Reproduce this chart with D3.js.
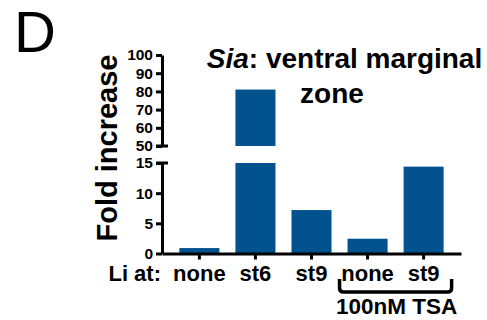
<!DOCTYPE html>
<html>
<head>
<meta charset="utf-8">
<script src="https://cdn.jsdelivr.net/npm/d3@7"></script>
<style>
  body { margin: 0; background: #fff; }
  svg text { font-family: "Liberation Sans", Arial, sans-serif; font-weight: bold; fill: #000; }
</style>
</head>
<body>
<div id="chart"></div>
<script>
// data
const categories = ['none', 'st6', 'st9', 'none', 'st9'];
const values = [0.9, 81, 7.2, 2.45, 14.4];
const lowTicks = [0, 5, 10, 15];
const highTicks = [50, 60, 70, 80, 90, 100];

const W = 487, H = 320;
const barColor = '#02528f';

const svg = d3.select('#chart').append('svg')
  .attr('width', W).attr('height', H);

// scales: broken axis with two segments
const x = d3.scaleBand()
  .domain(d3.range(categories.length))
  .range([162, 461])
  .paddingInner(0.286)
  .paddingOuter(0.31);

const yLow = d3.scaleLinear().domain([0, 15]).range([253.5, 163]);
const yHigh = d3.scaleLinear().domain([50, 100]).range([146, 55]);

// bars (the st6 bar is split across the break)
values.forEach((v, i) => {
  const top = Math.min(v, 15);
  svg.append('rect')
    .attr('x', x(i)).attr('width', x.bandwidth())
    .attr('y', yLow(top)).attr('height', yLow(0) - yLow(top))
    .attr('fill', barColor);
  if (v > 50) {
    svg.append('rect')
      .attr('x', x(i)).attr('width', x.bandwidth())
      .attr('y', yHigh(v)).attr('height', yHigh(50) - yHigh(v))
      .attr('fill', barColor);
  }
});

// y axes
const axisStyle = g => {
  g.select('.domain').attr('stroke-width', 3);
  g.selectAll('.tick line').attr('stroke-width', 3);
  g.selectAll('.tick text').style('font-size', '15.5px').attr('x', -9);
};

svg.append('g').attr('transform', 'translate(162,0)')
  .call(d3.axisLeft(yLow).tickValues(lowTicks).tickSize(6).tickSizeOuter(0))
  .call(axisStyle);

svg.append('g').attr('transform', 'translate(162,0)')
  .call(d3.axisLeft(yHigh).tickValues(highTicks).tickSize(6).tickSizeOuter(0))
  .call(axisStyle);

// break marks (ticks crossing the axis)
[yHigh(50), yLow(15)].forEach(yy => {
  svg.append('line').attr('x1', 156).attr('x2', 168)
    .attr('y1', yy).attr('y2', yy)
    .attr('stroke', '#000').attr('stroke-width', 3);
});

// x axis
const xAxis = svg.append('g').attr('transform', `translate(0,${yLow(0)})`)
  .call(d3.axisBottom(x).tickSize(6).tickSizeOuter(0).tickFormat(i => categories[i]));
xAxis.select('.domain').attr('stroke-width', 3);
xAxis.selectAll('.tick line').attr('stroke-width', 3);
xAxis.selectAll('.tick text').style('font-size', '22px').attr('y', 12).attr('dy', '0.71em');

svg.append('text')
  .attr('x', 161).attr('y', 281)
  .attr('text-anchor', 'end')
  .style('font-size', '22px')
  .text('Li at:');

// bracket under TSA group
const bx0 = x(3) - 8, bx1 = x(4) + x.bandwidth() + 8;
svg.append('path')
  .attr('d', `M${bx0},279 L${bx0},288 Q${bx0},292 ${bx0 + 4},292 L${bx1 - 4},292 Q${bx1},292 ${bx1},288 L${bx1},279`)
  .attr('fill', 'none').attr('stroke', '#000').attr('stroke-width', 3.5);

svg.append('text')
  .attr('x', (bx0 + bx1) / 2 + 1).attr('y', 314)
  .attr('text-anchor', 'middle')
  .style('font-size', '22.5px')
  .text('100nM TSA');

// y title
svg.append('text')
  .attr('transform', 'translate(117,148) rotate(-90)')
  .attr('text-anchor', 'middle')
  .style('font-size', '29px')
  .text('Fold increase');

// chart title
const title = svg.append('text')
  .attr('x', 344.5).attr('y', 68)
  .attr('text-anchor', 'middle')
  .style('font-size', '28px');
title.append('tspan').style('font-style', 'italic').text('Sia');
title.append('tspan').text(': ventral marginal');
svg.append('text')
  .attr('x', 332).attr('y', 103)
  .attr('text-anchor', 'middle')
  .style('font-size', '28px')
  .text('zone');

// panel letter
svg.append('text')
  .attr('x', 14).attr('y', 52)
  .style('font-weight', 'normal')
  .style('font-size', '58px')
  .text('D');
</script>
</body>
</html>
